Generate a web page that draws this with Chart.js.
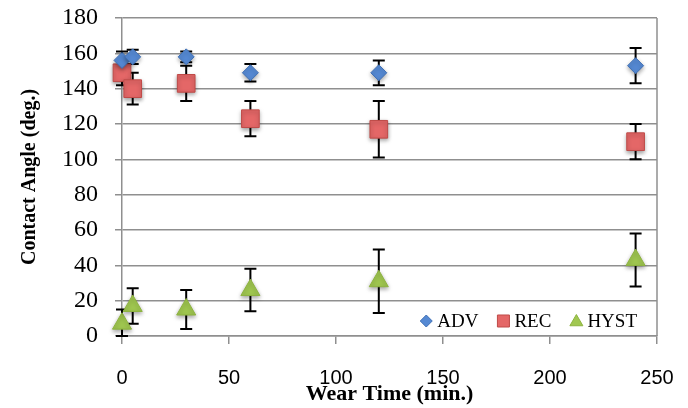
<!DOCTYPE html>
<html>
<head>
<meta charset="utf-8">
<script src="https://cdn.jsdelivr.net/npm/chart.js@4.4.0/dist/chart.umd.min.js"></script>
<style>
  html, body { margin: 0; padding: 0; background: #fff; }
  #wrap { width: 688px; height: 408px; }
</style>
</head>
<body>
<div id="wrap"><canvas id="chart"></canvas></div>
<script>
// ---- DATA ----
const wearTime = [0, 5, 30, 60, 120, 240];
const advAngle = [156, 158, 158, 149, 149, 153];
const advErr   = [5, 4, 3, 5, 7, 10];
const recAngle = [149, 140, 143, 123, 117, 110];
const recErr   = [7, 9, 10, 10, 16, 10];
const hystAngle = [7, 17, 15, 26, 31, 43];
const hystErr   = [8, 10, 11, 12, 18, 15];
const seriesNames = ['ADV', 'REC', 'HYST'];
const errors = [advErr, recErr, hystErr];

const GRID = '#8f8f8f';
const SERIF = '"Liberation Serif", "DejaVu Serif", serif';
const SANS = '"Liberation Sans", Arial, sans-serif';

function pts(vals) {
  return wearTime.map((t, i) => ({ x: t, y: vals[i] }));
}

// error bars behind the markers
const errorBars = {
  id: 'errorBars',
  beforeDatasetsDraw(chart) {
    const ctx = chart.ctx;
    const y = chart.scales.y;
    ctx.save();
    ctx.strokeStyle = '#000';
    ctx.lineWidth = 2;
    chart.data.datasets.forEach((ds, i) => {
      const meta = chart.getDatasetMeta(i);
      meta.data.forEach((p, j) => {
        const v = ds.data[j].y, e = errors[i][j];
        const top = y.getPixelForValue(v + e);
        const bot = y.getPixelForValue(Math.max(v - e, 0));
        ctx.beginPath();
        ctx.moveTo(p.x, top); ctx.lineTo(p.x, bot);
        ctx.moveTo(p.x - 6, top); ctx.lineTo(p.x + 6, top);
        ctx.moveTo(p.x - 6, bot); ctx.lineTo(p.x + 6, bot);
        ctx.stroke();
      });
    });
    ctx.restore();
  }
};

// soft shadow under markers
const markerShadow = {
  id: 'markerShadow',
  beforeDatasetDraw(chart) {
    const ctx = chart.ctx;
    ctx.save();
    ctx.shadowColor = 'rgba(0,0,0,0.35)';
    ctx.shadowBlur = 4;
    ctx.shadowOffsetY = 2;
  },
  afterDatasetDraw(chart) {
    chart.ctx.restore();
  }
};

// right border of the plot area
const plotBorder = {
  id: 'plotBorder',
  beforeDatasetsDraw(chart) {
    const { ctx, chartArea: a } = chart;
    ctx.save();
    ctx.strokeStyle = GRID;
    ctx.lineWidth = 1.5;
    ctx.beginPath();
    ctx.moveTo(a.right, a.top);
    ctx.lineTo(a.right, a.bottom);
    ctx.stroke();
    ctx.restore();
  }
};

// legend inside the plot, bottom right
const insideLegend = {
  id: 'insideLegend',
  afterDraw(chart) {
    const { ctx, chartArea: a } = chart;
    const marks = [
      { pointStyle: 'rectRot', radius: 6, rotation: 0, borderWidth: 1 },
      { pointStyle: 'rect', radius: 8.5, rotation: 0, borderWidth: 1 },
      { pointStyle: 'triangle', radius: 7.5, rotation: 0, borderWidth: 1 }
    ];
    ctx.save();
    ctx.font = '19px ' + SERIF;
    ctx.textBaseline = 'middle';
    ctx.fillStyle = '#000';
    const gapText = 11, gapItem = 25;
    let total = 0;
    seriesNames.forEach((n, i) => {
      total += gapText + ctx.measureText(n).width + (i < seriesNames.length - 1 ? gapItem : 0);
    });
    let x = a.right - 20 - total;
    const yc = a.bottom - 15;
    seriesNames.forEach((n, i) => {
      const ds = chart.data.datasets[i];
      ctx.fillStyle = ds.backgroundColor;
      ctx.strokeStyle = ds.borderColor;
      ctx.lineWidth = 1;
      Chart.helpers.drawPoint(ctx, marks[i], x, yc + (i === 2 ? 1 : 0));
      ctx.fillStyle = '#000';
      ctx.fillText(n, x + gapText, yc + 1);
      x += gapText + ctx.measureText(n).width + gapItem;
    });
    ctx.restore();
  }
};

new Chart(document.getElementById('chart'), {
  type: 'scatter',
  data: {
    datasets: [
      { label: seriesNames[0], data: pts(advAngle), pointStyle: 'rectRot', pointRadius: 8,
        backgroundColor: '#5589d3', borderColor: '#3f6fb4', borderWidth: 1, clip: false },
      { label: seriesNames[1], data: pts(recAngle), pointStyle: 'rect', pointRadius: 12.5,
        backgroundColor: '#e46767', borderColor: '#bf4b48', borderWidth: 1, clip: false },
      { label: seriesNames[2], data: pts(hystAngle), pointStyle: 'triangle', pointRadius: 11,
        backgroundColor: '#a0c750', borderColor: '#8db33f', borderWidth: 1, clip: false }
    ]
  },
  options: {
    responsive: true,
    maintainAspectRatio: false,
    animation: false,
    events: [],
    layout: { padding: { top: 18, right: 31, bottom: 0, left: 0 } },
    plugins: { legend: { display: false }, tooltip: { enabled: false } },
    scales: {
      x: {
        type: 'linear', min: 0, max: 250,
        afterFit: s => { s.height = 72; s.paddingLeft = 0; s.paddingRight = 0; },
        ticks: { stepSize: 50, padding: 22, color: '#000', font: { family: SANS, size: 20 } },
        grid: { drawOnChartArea: false, drawTicks: true, tickLength: 8, color: GRID, lineWidth: 1.5 },
        border: { color: GRID, width: 1.5 },
        title: { display: true, text: 'Wear Time (min.)', color: '#000',
                 font: { family: SERIF, size: 22, weight: 'bold' }, padding: { top: 0, bottom: 0 } }
      },
      y: {
        min: 0, max: 180,
        afterFit: s => { s.width = 122; s.paddingTop = 0; s.paddingBottom = 0; },
        ticks: { stepSize: 20, padding: 17, color: '#000', font: { family: SERIF, size: 24 } },
        grid: { color: GRID, lineWidth: 1.5, tickLength: 7 },
        border: { color: GRID, width: 1.5 },
        title: { display: true, text: 'Contact Angle (deg.)', color: '#000',
                 font: { family: SERIF, size: 20, weight: 'bold' }, padding: { top: 18, bottom: 0 } }
      }
    }
  },
  plugins: [plotBorder, errorBars, markerShadow, insideLegend]
});
</script>
</body>
</html>
